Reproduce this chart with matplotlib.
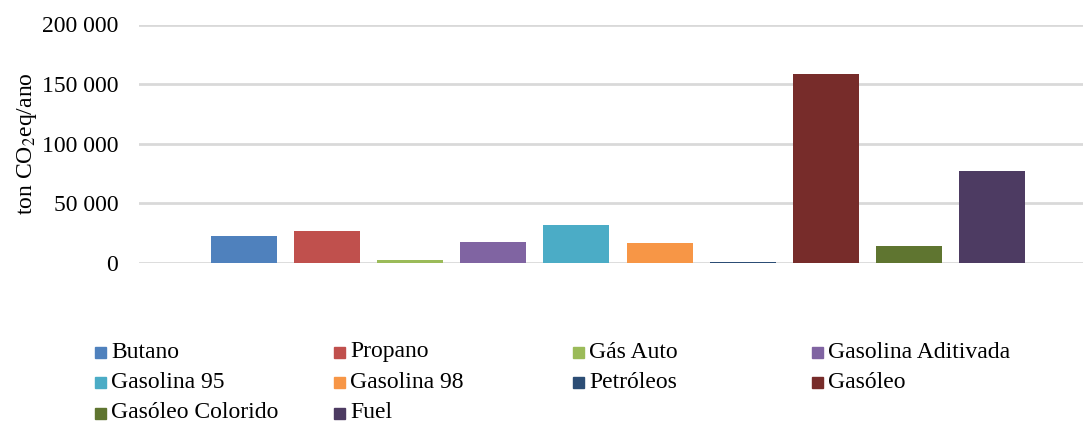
import numpy as np
import matplotlib
matplotlib.use("Agg")
import matplotlib.pyplot as plt
from matplotlib.patches import Rectangle
from matplotlib.ticker import FuncFormatter

# emissoes por combustivel (ton CO2eq/ano)
combustiveis = ["Butano", "Propano", "Gás Auto", "Gasolina Aditivada", "Gasolina 95",
                "Gasolina 98", "Petróleos", "Gasóleo", "Gasóleo Colorido", "Fuel"]
emissoes = [22600, 26800, 2500, 17600, 31900, 16800, 900, 158500, 14300, 77200]
cores = ["#4f81bd", "#c0504d", "#9bbb59", "#8064a2", "#4bacc6",
         "#f79646", "#2c4d75", "#772c2a", "#5f7530", "#4d3b62"]
y_ticks = [0, 50000, 100000, 150000, 200000]

plt.rcParams["font.family"] = ["Liberation Serif", "DejaVu Serif"]
plt.rcParams["mathtext.fontset"] = "stix"
fs = 17

W, H = 1083, 424
fig = plt.figure(figsize=(W / 100, H / 100), dpi=100)
ax = fig.add_axes([139 / W, 1 - 263 / H, 1 - 139 / W, (263 - 24.5) / H])

x = np.arange(len(combustiveis))
ax.bar(x, emissoes, width=0.794, color=cores, zorder=3)

ax.set_xlim(-1.264, 10.096)
ax.set_ylim(0, 200000)
ax.set_yticks(y_ticks)
ax.yaxis.set_major_formatter(FuncFormatter(lambda v, p: f"{int(v):,}".replace(",", " ")))
ax.set_xticks([])
ax.grid(axis="y", color="#d9d9d9", linewidth=2, zorder=0)
for s in ax.spines.values():
    s.set_visible(False)
ax.tick_params(axis="y", length=0, labelsize=fs, pad=15)
ax.set_ylabel("ton CO$_2$eq/ano", fontsize=fs, labelpad=2)

# legenda em 4 colunas, abaixo do grafico
for i, (nome, cor) in enumerate(zip(combustiveis, cores)):
    col, row = i % 4, i // 4
    x0 = 95 + col * 239
    yc = 352 + row * 30.5
    fig.patches.append(Rectangle((x0 / W, 1 - (yc + 5.5) / H), 11 / W, 11 / H,
                                 transform=fig.transFigure, color=cor, figure=fig))
    fig.text((x0 + 16) / W, 1 - yc / H, nome, fontsize=fs, va="center", ha="left")

fig.savefig("out.png", dpi=100)
